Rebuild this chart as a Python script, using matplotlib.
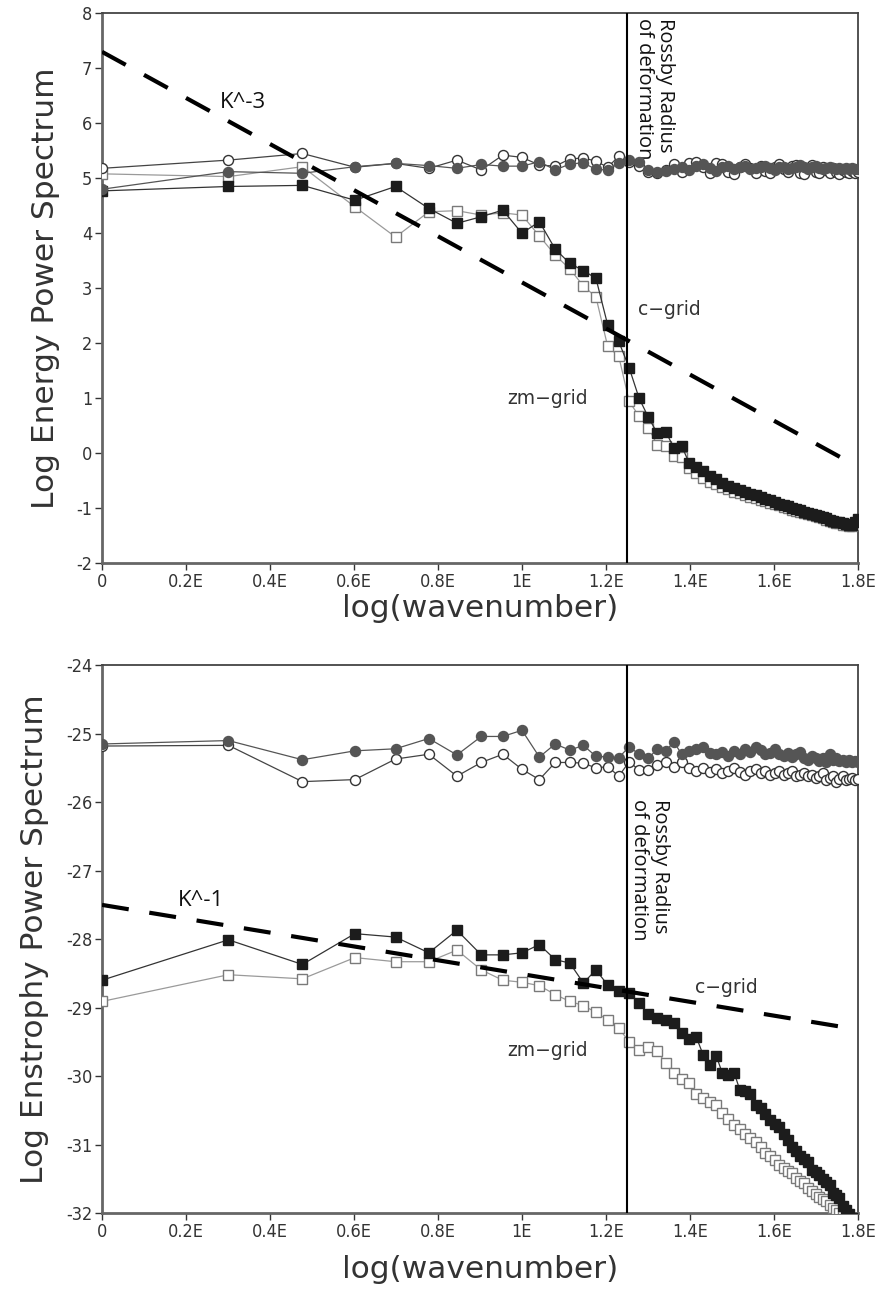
import matplotlib
matplotlib.use("Agg")
import matplotlib.pyplot as plt
import numpy as np

# wavenumbers 1..63, plotted on log10 axis
wavenumber = list(range(1, 64))

# ---- energy spectrum (top) ----
energy_circle_open = [
    5.18, 5.33, 5.45, 5.20, 5.27, 5.18, 5.33, 5.15, 5.42, 5.38,
    5.24, 5.22, 5.35, 5.37, 5.31, 5.20, 5.40, 5.30, 5.22, 5.12,
    5.10, 5.15, 5.25, 5.12, 5.28, 5.30, 5.20, 5.10, 5.28, 5.25,
    5.12, 5.08, 5.20, 5.26, 5.18, 5.10, 5.22, 5.14, 5.10, 5.20,
    5.25, 5.16, 5.12, 5.22, 5.24, 5.10, 5.08, 5.18, 5.24, 5.12,
    5.10, 5.20, 5.15, 5.10, 5.18, 5.12, 5.08, 5.15, 5.12, 5.10,
    5.14, 5.10, 5.12,
]
energy_circle_fill = [
    4.80, 5.12, 5.09, 5.21, 5.27, 5.23, 5.18, 5.25, 5.22, 5.22,
    5.30, 5.15, 5.26, 5.28, 5.16, 5.15, 5.27, 5.33, 5.30, 5.15,
    5.12, 5.14, 5.17, 5.20, 5.15, 5.22, 5.25, 5.18, 5.14, 5.20,
    5.22, 5.17, 5.20, 5.22, 5.16, 5.18, 5.20, 5.22, 5.18, 5.15,
    5.20, 5.21, 5.17, 5.19, 5.20, 5.24, 5.20, 5.16, 5.20, 5.22,
    5.18, 5.17, 5.19, 5.20, 5.18, 5.16, 5.19, 5.17, 5.18, 5.16,
    5.18, 5.17, 5.17,
]
energy_square_open = [
    5.08, 5.03, 5.21, 4.48, 3.93, 4.39, 4.41, 4.33, 4.37, 4.33,
    3.95, 3.60, 3.35, 3.04, 2.84, 1.94, 1.76, 0.94, 0.67, 0.46,
    0.15, 0.13, -0.05, -0.08, -0.27, -0.36, -0.45, -0.52, -0.57, -0.62,
    -0.66, -0.70, -0.73, -0.76, -0.79, -0.82, -0.85, -0.88, -0.90, -0.93,
    -0.95, -0.98, -1.00, -1.03, -1.05, -1.07, -1.09, -1.11, -1.13, -1.15,
    -1.17, -1.19, -1.21, -1.23, -1.25, -1.27, -1.28, -1.30, -1.31, -1.32,
    -1.33, -1.30, -1.26,
]
energy_square_fill = [
    4.77, 4.85, 4.87, 4.60, 4.85, 4.45, 4.18, 4.30, 4.42, 4.00,
    4.21, 3.71, 3.45, 3.32, 3.18, 2.33, 2.03, 1.55, 1.00, 0.65,
    0.36, 0.39, 0.09, 0.13, -0.18, -0.25, -0.33, -0.42, -0.48, -0.55,
    -0.60, -0.64, -0.68, -0.71, -0.74, -0.77, -0.80, -0.83, -0.86, -0.89,
    -0.92, -0.95, -0.97, -1.00, -1.02, -1.04, -1.07, -1.09, -1.11, -1.13,
    -1.15, -1.17, -1.19, -1.21, -1.23, -1.25, -1.26, -1.28, -1.29, -1.31,
    -1.30, -1.26, -1.20,
]
k3_x = [0.0, 1.8]
k3_y = [7.3, -0.25]

# ---- enstrophy spectrum (bottom) ----
enst_circle_open = [
    -25.18, -25.17, -25.70, -25.67, -25.37, -25.30, -25.62, -25.42, -25.30, -25.52,
    -25.67, -25.42, -25.42, -25.43, -25.50, -25.48, -25.62, -25.41, -25.53, -25.53,
    -25.45, -25.42, -25.48, -25.42, -25.50, -25.55, -25.50, -25.56, -25.52, -25.58,
    -25.55, -25.50, -25.56, -25.60, -25.55, -25.52, -25.58, -25.55, -25.60, -25.57,
    -25.54, -25.60, -25.58, -25.55, -25.62, -25.60, -25.58, -25.62, -25.60, -25.65,
    -25.62, -25.58, -25.68, -25.65, -25.62, -25.70, -25.66, -25.62, -25.68, -25.66,
    -25.64, -25.68, -25.66,
]
enst_circle_fill = [
    -25.15, -25.10, -25.38, -25.25, -25.22, -25.07, -25.31, -25.04, -25.04, -24.95,
    -25.34, -25.15, -25.24, -25.17, -25.33, -25.34, -25.35, -25.19, -25.30, -25.36,
    -25.22, -25.25, -25.12, -25.30, -25.25, -25.22, -25.20, -25.28, -25.30, -25.26,
    -25.32, -25.25, -25.30, -25.22, -25.26, -25.20, -25.24, -25.30, -25.28, -25.22,
    -25.30, -25.33, -25.28, -25.34, -25.30, -25.26, -25.35, -25.38, -25.32, -25.36,
    -25.40, -25.36, -25.42, -25.30, -25.38, -25.35, -25.40, -25.38, -25.42, -25.38,
    -25.42, -25.40, -25.42,
]
enst_square_open = [
    -28.91, -28.52, -28.58, -28.27, -28.33, -28.33, -28.16, -28.45, -28.60, -28.63,
    -28.68, -28.81, -28.91, -28.97, -29.07, -29.18, -29.30, -29.50, -29.62, -29.57,
    -29.64, -29.81, -29.96, -30.05, -30.10, -30.26, -30.32, -30.38, -30.43, -30.54,
    -30.62, -30.71, -30.78, -30.84, -30.90, -30.96, -31.03, -31.12, -31.17, -31.22,
    -31.30, -31.35, -31.38, -31.42, -31.49, -31.53, -31.56, -31.64, -31.68, -31.72,
    -31.76, -31.80, -31.83, -31.88, -31.92, -31.96, -32.00, -32.05, -32.10, -32.15,
    -32.20, -32.25, -32.30,
]
enst_square_fill = [
    -28.60, -28.01, -28.37, -27.92, -27.97, -28.20, -27.87, -28.23, -28.23, -28.20,
    -28.08, -28.30, -28.35, -28.64, -28.45, -28.67, -28.76, -28.79, -28.93, -29.10,
    -29.15, -29.18, -29.22, -29.37, -29.46, -29.43, -29.69, -29.84, -29.70, -29.96,
    -29.98, -29.95, -30.20, -30.22, -30.26, -30.42, -30.46, -30.55, -30.64, -30.70,
    -30.75, -30.85, -30.93, -31.03, -31.10, -31.17, -31.21, -31.25, -31.37, -31.40,
    -31.44, -31.51, -31.55, -31.59, -31.71, -31.74, -31.78, -31.90, -31.95, -32.02,
    -32.08, -32.12, -32.18,
]
k1_x = [0.0, 1.8]
k1_y = [-27.5, -29.32]

rossby_x = 1.25
xtick_vals = [0, 0.2, 0.4, 0.6, 0.8, 1.0, 1.2, 1.4, 1.6, 1.8]
xtick_labels = ["0", "0.2E", "0.4E", "0.6E", "0.8E", "1E", "1.2E", "1.4E", "1.6E", "1.8E"]

logk = np.log10(wavenumber)

fig = plt.figure(figsize=(8.77, 12.94), dpi=100)
ax_top = fig.add_axes([0.1163, 0.5649, 0.862, 0.4248])
ax_bot = fig.add_axes([0.1163, 0.0626, 0.862, 0.4233])

tick_font = dict(fontsize=13, color="#333333", fontstretch="condensed")
label_font = dict(fontsize=22.5, color="#333333")
note_font = dict(family="Open Sans", fontsize=14.5, color="#111111")
ref_font = dict(family="Open Sans", fontsize=16, color="#111111")


def draw_panel(ax, c_open, c_fill, s_open, s_fill, ref_x, ref_y, ylim, yticks):
    ax.plot(logk, s_open, "-", color="#9a9a9a", lw=0.9, marker="s", ms=6.8,
            mfc="white", mec="#7a7a7a", mew=1.0, zorder=3)
    ax.plot(logk, s_fill, "-", color="#333333", lw=0.9, marker="s", ms=6.8,
            mfc="#1c1c1c", mec="#1c1c1c", zorder=4)
    ax.plot(logk, c_open, "-", color="#444444", lw=0.9, marker="o", ms=7.2,
            mfc="white", mec="#333333", mew=1.0, zorder=5)
    ax.plot(logk, c_fill, "-", color="#555555", lw=0.9, marker="o", ms=7.2,
            mfc="#555555", mec="#555555", zorder=6)
    ax.plot(ref_x, ref_y, color="black", lw=3.0, dashes=(6.5, 5.0),
            solid_capstyle="butt", dash_capstyle="butt", zorder=7)
    ax.axvline(rossby_x, color="black", lw=1.5, zorder=8)

    ax.set_xlim(0, 1.8)
    ax.set_ylim(*ylim)
    ax.set_xticks(xtick_vals)
    ax.set_xticklabels(xtick_labels, **tick_font)
    ax.set_yticks(yticks)
    ax.set_yticklabels([str(t) for t in yticks], **tick_font)
    ax.tick_params(direction="out", length=5, width=1, color="#333333", pad=2)
    for side in ["top", "right"]:
        ax.spines[side].set_color("#444444")
        ax.spines[side].set_linewidth(1.3)
    for side in ["left", "bottom"]:
        ax.spines[side].set_color("#666666")
        ax.spines[side].set_linewidth(2.0)


draw_panel(ax_top, energy_circle_open, energy_circle_fill, energy_square_open,
           energy_square_fill, k3_x, k3_y, (-2, 8), list(range(-2, 9)))
ax_top.set_xlabel("log(wavenumber)", labelpad=2, **label_font)
ax_top.set_ylabel("Log Energy Power Spectrum", labelpad=12, **label_font)
ax_top.text(0.336, 6.37, "K^-3", ha="center", va="center", **ref_font)
ax_top.text(1.267, 7.92, "Rossby Radius\nof deformation", rotation=-90,
            ha="left", va="top", linespacing=1.05, **note_font)
ax_top.text(1.351, 2.62, "c\u2212grid", ha="center", va="center",
            fontsize=13.5, color="#333333")
ax_top.text(1.061, 1.0, "zm\u2212grid", ha="center", va="center",
            fontsize=13.5, color="#333333")

draw_panel(ax_bot, enst_circle_open, enst_circle_fill, enst_square_open,
           enst_square_fill, k1_x, k1_y, (-32, -24), list(range(-32, -23)))
ax_bot.set_xlabel("log(wavenumber)", labelpad=10, **label_font)
ax_bot.set_ylabel("Log Enstrophy Power Spectrum", labelpad=12, **label_font)
ax_bot.text(0.235, -27.43, "K^-1", ha="center", va="center", **ref_font)
ax_bot.text(1.256, -25.95, "Rossby Radius\nof deformation", rotation=-90,
            ha="left", va="top", linespacing=1.05, **note_font)
ax_bot.text(1.487, -28.71, "c\u2212grid", ha="center", va="center",
            fontsize=13.5, color="#333333")
ax_bot.text(1.06, -29.62, "zm\u2212grid", ha="center", va="center",
            fontsize=13.5, color="#333333")

fig.savefig("out.png", dpi=100)
